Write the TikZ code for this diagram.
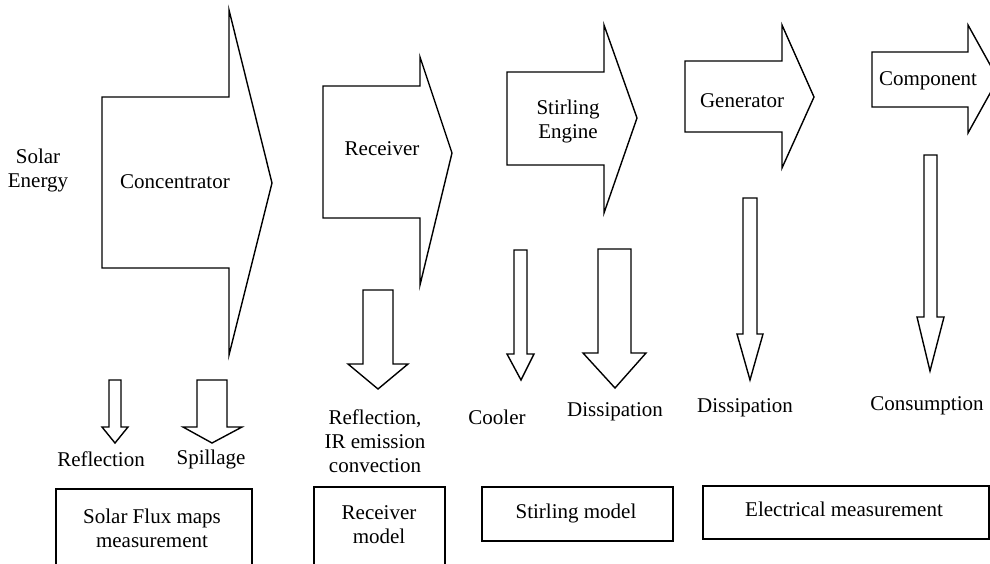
\documentclass[tikz,border=0pt]{standalone}
\usepackage{fontspec}
\setmainfont{Liberation Serif}
\usepackage{tikz}
\usetikzlibrary{positioning}

\begin{document}
\begin{tikzpicture}[x=0.5pt,y=-0.5pt,
    every node/.style={font=\fontsize{10.5}{12}\selectfont,align=center,inner sep=0pt},
    flow/.style={draw=black,line width=0.7pt,fill=white,line join=miter},
    loss/.style={draw=black,line width=0.7pt,fill=white,line join=miter},
    model/.style={draw=black,line width=0.7pt,fill=white}]
  \clip (0,0) rectangle (990,563);
  % main energy flow
  \draw[flow] (102,97) -- (229,97) -- (229,10) -- (272,183) -- (229,355) -- (229,268) -- (102,268) -- cycle;
  \draw[flow] (323,86) -- (420,86) -- (420,57) -- (452,153) -- (420,285) -- (420,218) -- (323,218) -- cycle;
  \draw[flow] (507,72) -- (604,72) -- (604,25) -- (637,118) -- (604,213) -- (604,165) -- (507,165) -- cycle;
  \draw[flow] (685,61) -- (782,61) -- (782,25) -- (814,97) -- (782,168) -- (782,132) -- (685,132) -- cycle;
  \draw[flow] (872,52) -- (968,52) -- (968,25) -- (998,79) -- (968,133) -- (968,107) -- (872,107) -- cycle;
  \node (sun) at (38,170) {Solar\\Energy};
  \node (conc) at (175,182) {Concentrator};
  \node (recv) at (382,149) {Receiver};
  \node (stir) at (568,121) {Stirling\\Engine};
  \node (gen) at (742,101) {Generator};
  \node (comp) at (928,81) {Component};
  % losses
  \draw[loss] (109,380) -- (121,380) -- (121,427) -- (128,427) -- (115,443) -- (102,427) -- (109,427) -- cycle;
  \draw[loss] (197,380) -- (227,380) -- (227,427) -- (242,427) -- (212,443) -- (183,427) -- (197,427) -- cycle;
  \draw[loss] (363,290) -- (393,290) -- (393,364) -- (408,364) -- (378,389) -- (348,364) -- (363,364) -- cycle;
  \draw[loss] (514,250) -- (527,250) -- (527,354) -- (534,354) -- (521,380) -- (507,354) -- (514,354) -- cycle;
  \draw[loss] (598,249) -- (631,249) -- (631,353) -- (646,353) -- (615,388) -- (583,353) -- (598,353) -- cycle;
  \draw[loss] (743,198) -- (757,198) -- (757,334) -- (763,334) -- (750,380) -- (737,334) -- (743,334) -- cycle;
  \draw[loss] (924,155) -- (937,155) -- (937,317) -- (944,317) -- (930,371) -- (917,317) -- (924,317) -- cycle;
  \node (refl) at (101,459) {Reflection};
  \node (spill) at (211,459) {Spillage};
  \node (rloss) at (375,441) {Reflection,\\IR emission\\convection};
  \node (cool) at (497,417) {Cooler};
  \node (sdiss) at (615,412) {Dissipation};
  \node (gdiss) at (745,408) {Dissipation};
  \node (cons) at (927,406) {Consumption};
  % models
  \draw[model] (56,489) rectangle (252,580);
  \node (flux) at (152,528) {Solar Flux maps\\measurement};
  \draw[model] (314,487) rectangle (445,580);
  \node (rmod) at (379,525) {Receiver\\model};
  \draw[model] (482,487) rectangle (673,541);
  \node (smod) at (576,513) {Stirling model};
  \draw[model] (703,486) rectangle (989,539);
  \node (emeas) at (844,509) {Electrical measurement};
\end{tikzpicture}
\end{document}
